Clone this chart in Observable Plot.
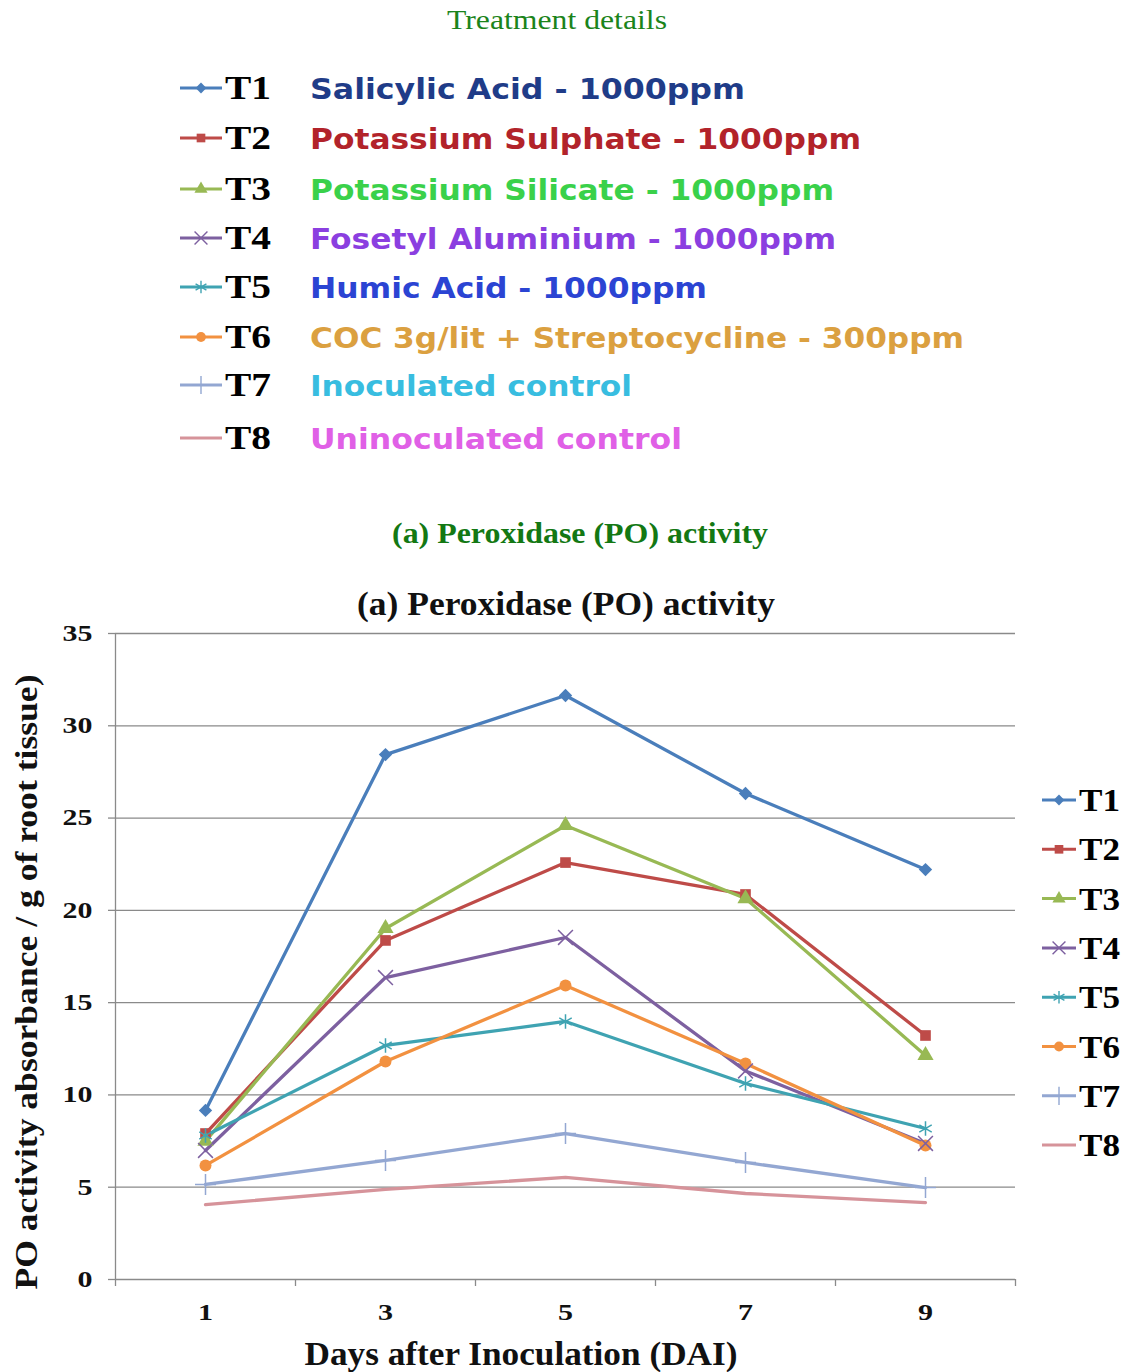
<!DOCTYPE html>
<html>
<head>
<meta charset="utf-8">
<script src="https://cdn.jsdelivr.net/npm/d3@7"></script>
<script src="https://cdn.jsdelivr.net/npm/@observablehq/plot@0.6"></script>
<style>
  html, body { margin: 0; padding: 0; background: #fff; }
  #wrap { position: relative; width: 1128px; height: 1372px; overflow: hidden; background: #fff; }
  #topsvg { position: absolute; left: 0; top: 0; }
  #chart { position: absolute; left: 0; top: 580px; }
</style>
</head>
<body>
<div id="wrap">
  <svg id="topsvg" width="1128" height="580"></svg>
  <div id="chart"></div>
</div>
<script>
// ---------- data ----------
const days = [1, 3, 5, 7, 9];
const series = ["T1", "T2", "T3", "T4", "T5", "T6", "T7", "T8"];
const treatments = [
  "Salicylic Acid - 1000ppm",
  "Potassium Sulphate - 1000ppm",
  "Potassium Silicate - 1000ppm",
  "Fosetyl Aluminium - 1000ppm",
  "Humic Acid - 1000ppm",
  "COC 3g/lit + Streptocycline - 300ppm",
  "Inoculated control",
  "Uninoculated control"
];
const T1 = [9.16, 28.44, 31.64, 26.33, 22.21];
const T2 = [7.91, 18.37, 22.59, 20.86, 13.22];
const T3 = [7.50, 19.02, 24.60, 20.64, 12.14];
const T4 = [6.99, 16.36, 18.53, 11.30, 7.37];
const T5 = [7.80, 12.68, 13.98, 10.62, 8.18];
const T6 = [6.18, 11.81, 15.93, 11.70, 7.26];
const T7 = [5.15, 6.45, 7.91, 6.34, 4.98];
const T8 = [4.06, 4.88, 5.53, 4.66, 4.17];
const values = [T1, T2, T3, T4, T5, T6, T7, T8];
const yTicks = [0, 5, 10, 15, 20, 25, 30, 35];
const xBounds = [0, 2, 4, 6, 8, 10];

// ---------- styles ----------
const lineColors = ["#4a7ebb", "#be4b48", "#98b954", "#7d60a0", "#3fa3b2", "#f29140", "#93a7d2", "#d6939a"];
const textColors = ["#1f3c88", "#b2232a", "#3ad14a", "#8b3fe0", "#2b44d3", "#dba040", "#38bde0", "#e060e6"];
const symbols = [d3.symbolDiamond2, d3.symbolSquare, d3.symbolTriangle, d3.symbolTimes, d3.symbolAsterisk, d3.symbolCircle, d3.symbolPlus, d3.symbolCircle];
const filledSeries = ["T1", "T2", "T3", "T6"];
const strokedSeries = ["T4", "T5", "T7"];
const descWidths = [435, 551, 524, 526, 397, 654, 322, 372];
const serif = "'Liberation Serif', 'Times New Roman', serif";

const data = series.flatMap((s, i) => days.map((d, j) => ({series: s, day: d, value: values[i][j]})));

// ---------- top treatment legend ----------
const topSvg = d3.select("#topsvg");
topSvg.append("text").attr("x", 557).attr("y", 29).attr("text-anchor", "middle")
  .attr("font-family", serif).attr("font-size", 27).attr("fill", "#1b841b")
  .attr("textLength", 220).attr("lengthAdjust", "spacingAndGlyphs").text("Treatment details");

function drawSample(g, i, x0, x1, cy) {
  g.append("line").attr("x1", x0).attr("x2", x1).attr("y1", cy).attr("y2", cy)
    .attr("stroke", lineColors[i]).attr("stroke-width", 3);
  if (i === 7) return;
  const filled = filledSeries.includes(series[i]);
  g.append("path").attr("transform", `translate(${(x0 + x1) / 2},${cy})`)
    .attr("d", d3.symbol(symbols[i], filled ? 75 : 110)())
    .attr("fill", filled ? lineColors[i] : "none")
    .attr("stroke", filled ? "none" : lineColors[i]).attr("stroke-width", 1.4);
}

const rowBase = [99, 149, 200, 249, 298, 348, 396, 449];
series.forEach((s, i) => {
  const cy = rowBase[i] - 11;
  drawSample(topSvg, i, 180, 222, cy);
  topSvg.append("text").attr("x", 225).attr("y", rowBase[i]).attr("font-family", serif)
    .attr("font-weight", "bold").attr("font-size", 34).attr("fill", "#000")
    .attr("textLength", 46).attr("lengthAdjust", "spacingAndGlyphs").text(s);
  topSvg.append("text").attr("x", 310).attr("y", rowBase[i]).attr("font-family", "'DejaVu Sans', Verdana, sans-serif")
    .attr("font-weight", "bold").attr("font-size", 29).attr("fill", textColors[i])
    .attr("textLength", descWidths[i]).attr("lengthAdjust", "spacingAndGlyphs").text(treatments[i]);
});

topSvg.append("text").attr("x", 580).attr("y", 543).attr("text-anchor", "middle")
  .attr("font-family", serif).attr("font-weight", "bold").attr("font-size", 30).attr("fill", "#137813")
  .attr("textLength", 376).attr("lengthAdjust", "spacingAndGlyphs").text("(a) Peroxidase (PO) activity");

// ---------- chart ----------
const gridColor = "#8a8a8a";
const chart = Plot.plot({
  width: 1128,
  height: 792,
  marginLeft: 115,
  marginRight: 113,
  marginTop: 53,
  marginBottom: 93,
  style: {fontFamily: serif, background: "white", color: "#000", overflow: "visible"},
  x: {type: "linear", domain: [0, 10], axis: null},
  y: {domain: [0, 35], axis: null},
  color: {domain: series, range: lineColors},
  symbol: {domain: series, range: symbols},
  marks: [
    Plot.ruleY(yTicks.filter(v => v > 0), {stroke: gridColor, strokeWidth: 1.3}),
    Plot.axisY({ticks: yTicks, tickSize: 7, tickPadding: 16, stroke: gridColor, strokeWidth: 1.3,
      fontSize: 23, fontWeight: "bold", fill: "#111", label: null}),
    Plot.axisX({ticks: xBounds, tickSize: 7, tickFormat: () => "", stroke: gridColor, strokeWidth: 1.3, label: null}),
    Plot.axisX({ticks: days, tickSize: 0, tickPadding: 24, fontSize: 23, fontWeight: "bold", fill: "#111", label: null}),
    Plot.ruleX([0], {stroke: gridColor, strokeWidth: 1.3}),
    Plot.ruleY([0], {stroke: gridColor, strokeWidth: 1.3}),
    Plot.line(data, {x: "day", y: "value", z: "series", stroke: "series", strokeWidth: 3.3, strokeLinejoin: "round"}),
    Plot.dot(data.filter(d => filledSeries.includes(d.series)), {x: "day", y: "value", symbol: "series", fill: "series", r: 6}),
    Plot.dot(data.filter(d => strokedSeries.includes(d.series)), {x: "day", y: "value", symbol: "series", stroke: "series", r: 6.8, strokeWidth: 1.5})
  ]
});
document.getElementById("chart").appendChild(chart);

// widen tick labels to match the stretched look of the original
d3.select(chart).selectAll('g[aria-label="y-axis tick label"] text, g[aria-label="x-axis tick label"] text')
  .each(function () {
    const w = this.getComputedTextLength();
    if (w > 0) {
      this.setAttribute("textLength", (w * 1.3).toFixed(1));
      this.setAttribute("lengthAdjust", "spacingAndGlyphs");
    }
  });

// titles and right legend inside the chart svg
const svg = d3.select(chart);
svg.append("text").attr("x", 566).attr("y", 35).attr("text-anchor", "middle")
  .attr("font-family", serif).attr("font-weight", "bold").attr("font-size", 33).attr("fill", "#111")
  .attr("textLength", 418).attr("lengthAdjust", "spacingAndGlyphs").text("(a) Peroxidase (PO) activity");
svg.append("text").attr("transform", "translate(37,402) rotate(-90)").attr("text-anchor", "middle")
  .attr("font-family", serif).attr("font-weight", "bold").attr("font-size", 31).attr("fill", "#111")
  .attr("textLength", 615).attr("lengthAdjust", "spacingAndGlyphs").text("PO activity absorbance / g of root tissue)");
svg.append("text").attr("x", 521).attr("y", 785).attr("text-anchor", "middle")
  .attr("font-family", serif).attr("font-weight", "bold").attr("font-size", 33).attr("fill", "#111")
  .attr("textLength", 433).attr("lengthAdjust", "spacingAndGlyphs").text("Days after Inoculation (DAI)");

const leg = svg.append("g");
series.forEach((s, i) => {
  const cy = 220 + i * 49.3;
  drawSample(leg, i, 1042, 1076, cy);
  leg.append("text").attr("x", 1079).attr("y", cy + 11).attr("text-anchor", "start").attr("font-family", serif)
    .attr("font-weight", "bold").attr("font-size", 32).attr("fill", "#000")
    .attr("textLength", 41).attr("lengthAdjust", "spacingAndGlyphs").text(s);
});
</script>
</body>
</html>
